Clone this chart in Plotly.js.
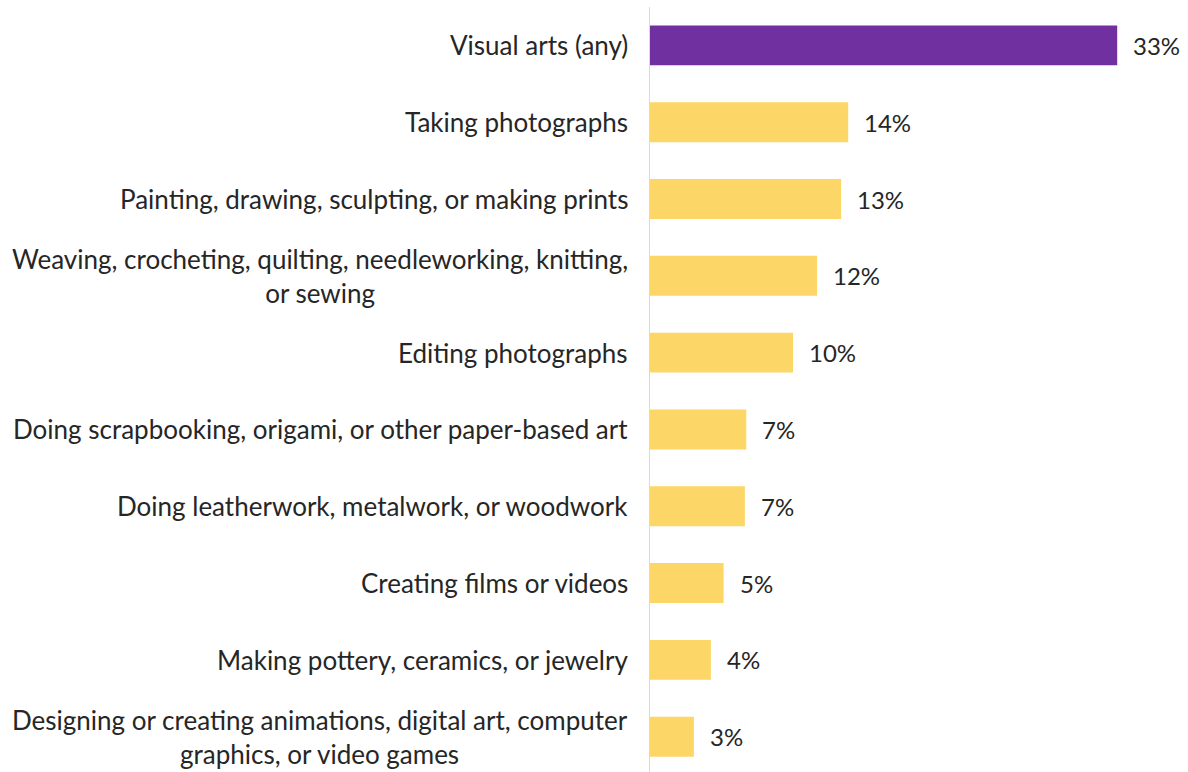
<!DOCTYPE html>
<html>
<head>
<meta charset="utf-8">
<script src="https://cdn.plot.ly/plotly-3.0.1.min.js"></script>
<style>html,body{margin:0;padding:0;background:#fff;}#chart{width:1188px;height:772px;}</style>
</head>
<body>
<div id="chart"></div>
<script>
const categories = [
  "Visual arts (any)",
  "Taking photographs",
  "Painting, drawing, sculpting, or making prints",
  "Weaving, crocheting, quilting, needleworking, knitting,<br>or sewing",
  "Editing photographs",
  "Doing scrapbooking, origami, or other paper-based art",
  "Doing leatherwork, metalwork, or woodwork",
  "Creating films or videos",
  "Making pottery, ceramics, or jewelry",
  "Designing or creating animations, digital art, computer<br>graphics, or video games"
];
const values = [33.0, 14.0, 13.5, 11.8, 10.1, 6.8, 6.7, 5.2, 4.3, 3.1];
const valueLabels = ["33%", "14%", "13%", "12%", "10%", "7%", "7%", "5%", "4%", "3%"];
const colors = ["#7030A0", "#FCD667", "#FCD667", "#FCD667", "#FCD667", "#FCD667", "#FCD667", "#FCD667", "#FCD667", "#FCD667"];

const fontFam = "Lato, 'Open Sans', sans-serif";

const trace = {
  type: "bar",
  orientation: "h",
  y: categories,
  x: values,
  marker: {color: colors},
  width: 0.52,
  hoverinfo: "none"
};

const valueAnn = categories.map((c, i) => ({
  x: values[i], y: c, xref: "x", yref: "y",
  text: valueLabels[i], showarrow: false,
  xanchor: "left", xshift: 14,
  font: {family: fontFam, size: 24, color: "#262626"}
}));

const catAnn = categories.map((c) => ({
  x: 0, y: c, xref: "paper", yref: "y",
  text: c, showarrow: false,
  xanchor: "right", xshift: -20, align: "center",
  font: {family: fontFam, size: 26, color: "#262626"}
}));

const layout = {
  width: 1188, height: 772,
  margin: {l: 650, r: 0, t: 7, b: 0},
  paper_bgcolor: "#ffffff",
  plot_bgcolor: "#ffffff",
  showlegend: false,
  xaxis: {range: [0, 38], showgrid: false, zeroline: false, showticklabels: false, showline: false, ticks: ""},
  yaxis: {
    type: "category",
    range: [9.46, -0.5],
    showgrid: false, zeroline: false,
    showline: true, linecolor: "#D9D9D9", linewidth: 1.5,
    ticks: "", showticklabels: false
  },
  annotations: catAnn.concat(valueAnn)
};

Plotly.newPlot("chart", [trace], layout, {staticPlot: true, displayModeBar: false});
</script>
</body>
</html>
